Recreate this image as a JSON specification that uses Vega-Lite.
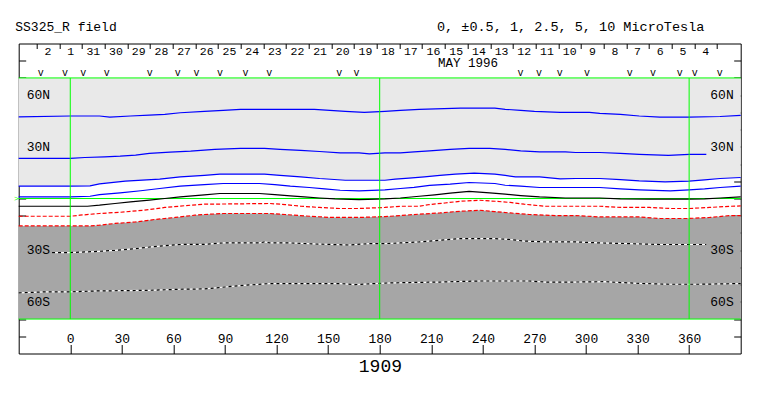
{
 "$schema": "https://vega.github.io/schema/vega-lite/v6.json",
 "width": 722,
 "height": 310,
 "autosize": {"type": "none"},
 "padding": {"left": 18.7, "top": 43.5, "right": 22.3, "bottom": 42.5},
 "background": "white",
 "config": {
  "view": {"stroke": "#000", "strokeWidth": 1},
  "font": "Liberation Mono",
  "text": {"font": "Liberation Mono", "color": "#000"},
  "axis": {"labelFont": "Liberation Mono", "labelColor": "#000", "tickColor": "#000", "grid": false, "domain": false, "title": null, "zindex": 2, "labelOverlap": false, "labelFlush": false}
 },
 "datasets": {
  "contours": [
   {"level": 5, "lon": -30, "lat": 47.4}, {"level": 5, "lon": 0, "lat": 47.9}, {"level": 5, "lon": 17, "lat": 47.9}, {"level": 5, "lon": 23, "lat": 47.3}, {"level": 5, "lon": 35, "lat": 47.9}, {"level": 5, "lon": 46, "lat": 48.4}, {"level": 5, "lon": 55, "lat": 48.8}, {"level": 5, "lon": 64, "lat": 49.8}, {"level": 5, "lon": 78, "lat": 50.6}, {"level": 5, "lon": 89, "lat": 51.2}, {"level": 5, "lon": 99, "lat": 51.8}, {"level": 5, "lon": 142, "lat": 51.8}, {"level": 5, "lon": 151, "lat": 51.2}, {"level": 5, "lon": 160, "lat": 50.6}, {"level": 5, "lon": 171, "lat": 50.0}, {"level": 5, "lon": 183, "lat": 50.6}, {"level": 5, "lon": 192, "lat": 51.2}, {"level": 5, "lon": 203, "lat": 51.8}, {"level": 5, "lon": 227, "lat": 52.5}, {"level": 5, "lon": 247, "lat": 52.5}, {"level": 5, "lon": 253, "lat": 51.8}, {"level": 5, "lon": 262, "lat": 51.2}, {"level": 5, "lon": 270, "lat": 50.6}, {"level": 5, "lon": 285, "lat": 50.0}, {"level": 5, "lon": 302, "lat": 50.0}, {"level": 5, "lon": 308, "lat": 49.4}, {"level": 5, "lon": 320, "lat": 48.8}, {"level": 5, "lon": 331, "lat": 47.9}, {"level": 5, "lon": 343, "lat": 47.3}, {"level": 5, "lon": 360, "lat": 47.3}, {"level": 5, "lon": 378, "lat": 47.6}, {"level": 5, "lon": 390, "lat": 48.3},
   {"level": 2.5, "lon": -30, "lat": 23.3}, {"level": 2.5, "lon": 0, "lat": 23.3}, {"level": 2.5, "lon": 8.5, "lat": 23.8}, {"level": 2.5, "lon": 20, "lat": 24.2}, {"level": 2.5, "lon": 29, "lat": 24.6}, {"level": 2.5, "lon": 38, "lat": 25.2}, {"level": 2.5, "lon": 46, "lat": 26.2}, {"level": 2.5, "lon": 58, "lat": 26.9}, {"level": 2.5, "lon": 70, "lat": 27.5}, {"level": 2.5, "lon": 78, "lat": 28.1}, {"level": 2.5, "lon": 84, "lat": 28.5}, {"level": 2.5, "lon": 99, "lat": 29.1}, {"level": 2.5, "lon": 113, "lat": 29.1}, {"level": 2.5, "lon": 122, "lat": 28.5}, {"level": 2.5, "lon": 134, "lat": 27.9}, {"level": 2.5, "lon": 145, "lat": 27.3}, {"level": 2.5, "lon": 157, "lat": 26.5}, {"level": 2.5, "lon": 168, "lat": 26.5}, {"level": 2.5, "lon": 174, "lat": 25.9}, {"level": 2.5, "lon": 183, "lat": 26.5}, {"level": 2.5, "lon": 192, "lat": 26.5}, {"level": 2.5, "lon": 200, "lat": 27.1}, {"level": 2.5, "lon": 209, "lat": 27.7}, {"level": 2.5, "lon": 221, "lat": 28.5}, {"level": 2.5, "lon": 232, "lat": 29.1}, {"level": 2.5, "lon": 244, "lat": 29.1}, {"level": 2.5, "lon": 253, "lat": 28.5}, {"level": 2.5, "lon": 262, "lat": 27.7}, {"level": 2.5, "lon": 273, "lat": 27.1}, {"level": 2.5, "lon": 288, "lat": 27.1}, {"level": 2.5, "lon": 294, "lat": 26.7}, {"level": 2.5, "lon": 308, "lat": 26.7}, {"level": 2.5, "lon": 320, "lat": 26.2}, {"level": 2.5, "lon": 331, "lat": 25.6}, {"level": 2.5, "lon": 348, "lat": 25.0}, {"level": 2.5, "lon": 360, "lat": 25.6}, {"level": 2.5, "lon": 370, "lat": 25.6},
   {"level": 1, "lon": -30, "lat": 7.2}, {"level": 1, "lon": 0, "lat": 7.2}, {"level": 1, "lon": 11.5, "lat": 7.3}, {"level": 1, "lon": 17, "lat": 8.5}, {"level": 1, "lon": 32, "lat": 10.1}, {"level": 1, "lon": 52, "lat": 11.2}, {"level": 1, "lon": 64, "lat": 12.6}, {"level": 1, "lon": 78, "lat": 13.4}, {"level": 1, "lon": 87, "lat": 14.1}, {"level": 1, "lon": 113, "lat": 14.1}, {"level": 1, "lon": 122, "lat": 13.4}, {"level": 1, "lon": 134, "lat": 12.6}, {"level": 1, "lon": 145, "lat": 11.6}, {"level": 1, "lon": 160, "lat": 10.6}, {"level": 1, "lon": 183, "lat": 10.6}, {"level": 1, "lon": 189, "lat": 11.2}, {"level": 1, "lon": 197, "lat": 11.8}, {"level": 1, "lon": 206, "lat": 12.6}, {"level": 1, "lon": 215, "lat": 13.4}, {"level": 1, "lon": 224, "lat": 14.1}, {"level": 1, "lon": 235, "lat": 14.7}, {"level": 1, "lon": 247, "lat": 14.1}, {"level": 1, "lon": 253, "lat": 13.4}, {"level": 1, "lon": 259, "lat": 12.6}, {"level": 1, "lon": 273, "lat": 12.6}, {"level": 1, "lon": 285, "lat": 11.4}, {"level": 1, "lon": 294, "lat": 11.6}, {"level": 1, "lon": 308, "lat": 11.6}, {"level": 1, "lon": 320, "lat": 11.0}, {"level": 1, "lon": 331, "lat": 10.2}, {"level": 1, "lon": 346, "lat": 9.7}, {"level": 1, "lon": 360, "lat": 10.1}, {"level": 1, "lon": 369, "lat": 10.8}, {"level": 1, "lon": 378, "lat": 11.6}, {"level": 1, "lon": 390, "lat": 12.2},
   {"level": 0.5, "lon": -30, "lat": 0.9}, {"level": 0.5, "lon": 0, "lat": 0.9}, {"level": 0.5, "lon": 11.5, "lat": 1.3}, {"level": 0.5, "lon": 17, "lat": 2.3}, {"level": 0.5, "lon": 29, "lat": 3.3}, {"level": 0.5, "lon": 41, "lat": 4.5}, {"level": 0.5, "lon": 52, "lat": 5.8}, {"level": 0.5, "lon": 64, "lat": 7.2}, {"level": 0.5, "lon": 78, "lat": 8.1}, {"level": 0.5, "lon": 89, "lat": 8.7}, {"level": 0.5, "lon": 110, "lat": 8.7}, {"level": 0.5, "lon": 119, "lat": 8.1}, {"level": 0.5, "lon": 128, "lat": 7.2}, {"level": 0.5, "lon": 139, "lat": 6.4}, {"level": 0.5, "lon": 148, "lat": 5.6}, {"level": 0.5, "lon": 157, "lat": 4.8}, {"level": 0.5, "lon": 168, "lat": 4.4}, {"level": 0.5, "lon": 183, "lat": 5.0}, {"level": 0.5, "lon": 192, "lat": 5.8}, {"level": 0.5, "lon": 200, "lat": 6.5}, {"level": 0.5, "lon": 209, "lat": 7.6}, {"level": 0.5, "lon": 221, "lat": 8.3}, {"level": 0.5, "lon": 232, "lat": 9.3}, {"level": 0.5, "lon": 247, "lat": 8.7}, {"level": 0.5, "lon": 253, "lat": 7.7}, {"level": 0.5, "lon": 262, "lat": 7.2}, {"level": 0.5, "lon": 273, "lat": 6.4}, {"level": 0.5, "lon": 308, "lat": 6.4}, {"level": 0.5, "lon": 320, "lat": 5.6}, {"level": 0.5, "lon": 331, "lat": 5.0}, {"level": 0.5, "lon": 349, "lat": 4.4}, {"level": 0.5, "lon": 360, "lat": 5.0}, {"level": 0.5, "lon": 369, "lat": 5.6}, {"level": 0.5, "lon": 378, "lat": 6.4}, {"level": 0.5, "lon": 390, "lat": 7.2},
   {"level": 0, "lon": -30, "lat": -4.5}, {"level": 0, "lon": 10, "lat": -4.5}, {"level": 0, "lon": 17, "lat": -3.9}, {"level": 0, "lon": 26, "lat": -2.9}, {"level": 0, "lon": 35, "lat": -2.0}, {"level": 0, "lon": 46, "lat": -1.0}, {"level": 0, "lon": 55, "lat": 0.0}, {"level": 0, "lon": 64, "lat": 0.9}, {"level": 0, "lon": 78, "lat": 2.1}, {"level": 0, "lon": 87, "lat": 2.9}, {"level": 0, "lon": 110, "lat": 2.9}, {"level": 0, "lon": 119, "lat": 2.3}, {"level": 0, "lon": 128, "lat": 1.5}, {"level": 0, "lon": 136, "lat": 0.9}, {"level": 0, "lon": 145, "lat": 0.3}, {"level": 0, "lon": 154, "lat": -0.2}, {"level": 0, "lon": 168, "lat": -0.6}, {"level": 0, "lon": 183, "lat": -0.2}, {"level": 0, "lon": 192, "lat": 0.3}, {"level": 0, "lon": 203, "lat": 1.3}, {"level": 0, "lon": 212, "lat": 2.1}, {"level": 0, "lon": 221, "lat": 3.1}, {"level": 0, "lon": 232, "lat": 4.1}, {"level": 0, "lon": 244, "lat": 3.3}, {"level": 0, "lon": 253, "lat": 2.5}, {"level": 0, "lon": 262, "lat": 1.7}, {"level": 0, "lon": 273, "lat": 0.9}, {"level": 0, "lon": 288, "lat": 0.3}, {"level": 0, "lon": 308, "lat": 0.3}, {"level": 0, "lon": 320, "lat": -0.2}, {"level": 0, "lon": 337, "lat": -0.4}, {"level": 0, "lon": 360, "lat": -0.4}, {"level": 0, "lon": 369, "lat": -0.2}, {"level": 0, "lon": 378, "lat": 0.3}, {"level": 0, "lon": 390, "lat": 0.9},
   {"level": -0.5, "lon": -30, "lat": -10.3}, {"level": -0.5, "lon": 0, "lat": -10.3}, {"level": -0.5, "lon": 5.6, "lat": -9.7}, {"level": -0.5, "lon": 17, "lat": -8.7}, {"level": -0.5, "lon": 29, "lat": -8.0}, {"level": -0.5, "lon": 43, "lat": -6.8}, {"level": -0.5, "lon": 55, "lat": -5.2}, {"level": -0.5, "lon": 70, "lat": -3.9}, {"level": -0.5, "lon": 78, "lat": -3.3}, {"level": -0.5, "lon": 99, "lat": -3.1}, {"level": -0.5, "lon": 116, "lat": -2.9}, {"level": -0.5, "lon": 125, "lat": -3.5}, {"level": -0.5, "lon": 134, "lat": -4.5}, {"level": -0.5, "lon": 145, "lat": -5.2}, {"level": -0.5, "lon": 157, "lat": -5.8}, {"level": -0.5, "lon": 168, "lat": -5.8}, {"level": -0.5, "lon": 183, "lat": -5.2}, {"level": -0.5, "lon": 192, "lat": -4.5}, {"level": -0.5, "lon": 203, "lat": -4.5}, {"level": -0.5, "lon": 209, "lat": -3.5}, {"level": -0.5, "lon": 218, "lat": -2.6}, {"level": -0.5, "lon": 227, "lat": -1.6}, {"level": -0.5, "lon": 238, "lat": -1.0}, {"level": -0.5, "lon": 247, "lat": -1.6}, {"level": -0.5, "lon": 256, "lat": -2.3}, {"level": -0.5, "lon": 264, "lat": -3.3}, {"level": -0.5, "lon": 276, "lat": -4.5}, {"level": -0.5, "lon": 308, "lat": -4.5}, {"level": -0.5, "lon": 320, "lat": -5.2}, {"level": -0.5, "lon": 337, "lat": -5.2}, {"level": -0.5, "lon": 349, "lat": -5.8}, {"level": -0.5, "lon": 360, "lat": -5.8}, {"level": -0.5, "lon": 372, "lat": -5.2}, {"level": -0.5, "lon": 384, "lat": -4.5}, {"level": -0.5, "lon": 390, "lat": -4.3},
   {"level": -1, "lon": -30, "lat": -15.9}, {"level": -1, "lon": 11.5, "lat": -15.9}, {"level": -1, "lon": 17, "lat": -15.5}, {"level": -1, "lon": 26, "lat": -14.5}, {"level": -1, "lon": 38, "lat": -13.6}, {"level": -1, "lon": 49, "lat": -12.2}, {"level": -1, "lon": 61, "lat": -11.0}, {"level": -1, "lon": 72.5, "lat": -9.7}, {"level": -1, "lon": 78, "lat": -9.3}, {"level": -1, "lon": 89, "lat": -8.7}, {"level": -1, "lon": 116, "lat": -8.7}, {"level": -1, "lon": 125, "lat": -9.3}, {"level": -1, "lon": 136, "lat": -10.1}, {"level": -1, "lon": 151, "lat": -11.0}, {"level": -1, "lon": 168, "lat": -11.0}, {"level": -1, "lon": 183, "lat": -10.5}, {"level": -1, "lon": 192, "lat": -9.9}, {"level": -1, "lon": 203, "lat": -9.1}, {"level": -1, "lon": 215, "lat": -8.4}, {"level": -1, "lon": 224, "lat": -7.6}, {"level": -1, "lon": 238, "lat": -6.8}, {"level": -1, "lon": 247, "lat": -7.6}, {"level": -1, "lon": 256, "lat": -8.4}, {"level": -1, "lon": 267, "lat": -9.3}, {"level": -1, "lon": 282, "lat": -9.9}, {"level": -1, "lon": 294, "lat": -9.9}, {"level": -1, "lon": 308, "lat": -10.7}, {"level": -1, "lon": 331, "lat": -10.7}, {"level": -1, "lon": 343, "lat": -11.6}, {"level": -1, "lon": 360, "lat": -11.6}, {"level": -1, "lon": 372, "lat": -11.0}, {"level": -1, "lon": 384, "lat": -9.9}, {"level": -1, "lon": 390, "lat": -9.9},
   {"level": -2.5, "lon": -10.6, "lat": -31.4}, {"level": -2.5, "lon": 0, "lat": -31.4}, {"level": -2.5, "lon": 14.4, "lat": -30.8}, {"level": -2.5, "lon": 26, "lat": -30.1}, {"level": -2.5, "lon": 38, "lat": -29.1}, {"level": -2.5, "lon": 49, "lat": -27.9}, {"level": -2.5, "lon": 64, "lat": -26.7}, {"level": -2.5, "lon": 78, "lat": -26.6}, {"level": -2.5, "lon": 89, "lat": -25.8}, {"level": -2.5, "lon": 110, "lat": -25.8}, {"level": -2.5, "lon": 113, "lat": -25.2}, {"level": -2.5, "lon": 116, "lat": -25.8}, {"level": -2.5, "lon": 128, "lat": -25.8}, {"level": -2.5, "lon": 142, "lat": -26.4}, {"level": -2.5, "lon": 162, "lat": -27.0}, {"level": -2.5, "lon": 174, "lat": -26.2}, {"level": -2.5, "lon": 183, "lat": -26.2}, {"level": -2.5, "lon": 192, "lat": -25.8}, {"level": -2.5, "lon": 203, "lat": -25.2}, {"level": -2.5, "lon": 215, "lat": -24.2}, {"level": -2.5, "lon": 227, "lat": -23.3}, {"level": -2.5, "lon": 247, "lat": -23.3}, {"level": -2.5, "lon": 256, "lat": -23.8}, {"level": -2.5, "lon": 264, "lat": -24.7}, {"level": -2.5, "lon": 276, "lat": -25.2}, {"level": -2.5, "lon": 294, "lat": -25.2}, {"level": -2.5, "lon": 308, "lat": -25.8}, {"level": -2.5, "lon": 325, "lat": -26.2}, {"level": -2.5, "lon": 343, "lat": -26.7}, {"level": -2.5, "lon": 370, "lat": -26.7},
   {"level": -5, "lon": -30, "lat": -54.8}, {"level": -5, "lon": -14.7, "lat": -54.2}, {"level": -5, "lon": 0, "lat": -54.2}, {"level": -5, "lon": 14.4, "lat": -53.7}, {"level": -5, "lon": 31.8, "lat": -53.5}, {"level": -5, "lon": 46, "lat": -53.3}, {"level": -5, "lon": 64, "lat": -52.7}, {"level": -5, "lon": 78, "lat": -52.5}, {"level": -5, "lon": 90, "lat": -51.4}, {"level": -5, "lon": 101, "lat": -50.4}, {"level": -5, "lon": 116, "lat": -49.4}, {"level": -5, "lon": 157, "lat": -49.4}, {"level": -5, "lon": 166, "lat": -50.0}, {"level": -5, "lon": 177, "lat": -49.4}, {"level": -5, "lon": 183, "lat": -49.1}, {"level": -5, "lon": 197, "lat": -48.8}, {"level": -5, "lon": 215, "lat": -48.5}, {"level": -5, "lon": 238, "lat": -47.9}, {"level": -5, "lon": 267, "lat": -47.9}, {"level": -5, "lon": 276, "lat": -48.5}, {"level": -5, "lon": 294, "lat": -48.5}, {"level": -5, "lon": 311, "lat": -48.3}, {"level": -5, "lon": 320, "lat": -48.8}, {"level": -5, "lon": 334, "lat": -49.4}, {"level": -5, "lon": 349, "lat": -49.8}, {"level": -5, "lon": 366, "lat": -49.8}, {"level": -5, "lon": 390, "lat": -49.4}
  ],
  "days": [
   {"day": "2", "lon": -13.0}, {"day": "1", "lon": 0.2}, {"day": "31", "lon": 13.4}, {"day": "30", "lon": 26.6}, {"day": "29", "lon": 39.8}, {"day": "28", "lon": 53.0}, {"day": "27", "lon": 66.2}, {"day": "26", "lon": 79.4}, {"day": "25", "lon": 92.6}, {"day": "24", "lon": 105.8}, {"day": "23", "lon": 119.0}, {"day": "22", "lon": 132.2}, {"day": "21", "lon": 145.3}, {"day": "20", "lon": 158.5}, {"day": "19", "lon": 171.7}, {"day": "18", "lon": 184.9}, {"day": "17", "lon": 198.1}, {"day": "16", "lon": 211.3}, {"day": "15", "lon": 224.5}, {"day": "14", "lon": 237.7}, {"day": "13", "lon": 250.9}, {"day": "12", "lon": 264.1}, {"day": "11", "lon": 277.3}, {"day": "10", "lon": 290.5}, {"day": "9", "lon": 303.7}, {"day": "8", "lon": 316.9}, {"day": "7", "lon": 330.0}, {"day": "6", "lon": 343.2}, {"day": "5", "lon": 356.4}, {"day": "4", "lon": 369.6}
  ],
  "vmarks": [
   {"lon": -17.2}, {"lon": -3.1}, {"lon": 7.6}, {"lon": 21.2}, {"lon": 46.3}, {"lon": 62.5}, {"lon": 73.5}, {"lon": 87.1}, {"lon": 101.9}, {"lon": 115.7}, {"lon": 156.4}, {"lon": 166.5}, {"lon": 261.9}, {"lon": 272.7}, {"lon": 284.7}, {"lon": 300.6}, {"lon": 325.4}, {"lon": 339.0}, {"lon": 354.5}, {"lon": 363.3}, {"lon": 377.8}
  ],
  "latlabels": [{"lat": 60, "label": "60N"}, {"lat": 30, "label": "30N"}, {"lat": -30, "label": "30S"}, {"lat": -60, "label": "60S"}],
  "meridians": [{"lon": 0}, {"lon": 180}, {"lon": 360}],
  "parallels": [{"lat": 70}, {"lat": 0}, {"lat": -70}]
 },
 "layer": [
  {
   "data": {"name": "contours"},
   "transform": [{"filter": "datum.level == 1"}],
   "mark": {"type": "area", "color": "#e9e9e9", "interpolate": "linear"},
   "encoding": {
    "x": {"field": "lon", "type": "quantitative", "scale": {"domain": [-30, 390], "nice": false, "zero": false},
     "axis": {"orient": "bottom", "values": [0, 30, 60, 90, 120, 150, 180, 210, 240, 270, 300, 330, 360], "tickSize": -9, "labelPadding": -2, "labelBaseline": "alphabetic", "labelFontSize": 13, "format": "d"}},
    "y": {"field": "lat", "type": "quantitative", "scale": {"domain": [-90, 90], "nice": false, "zero": false},
     "axis": {"orient": "left", "values": [-80, -70, -60, -50, -40, -30, -20, -10, 0, 10, 20, 30, 40, 50, 60, 70, 80], "tickSize": -7, "labels": false}},
    "y2": {"datum": 70}
   }
  },
  {
   "data": {"name": "contours"},
   "transform": [{"filter": "datum.level == -1"}],
   "mark": {"type": "area", "color": "#a6a6a6", "interpolate": "linear"},
   "encoding": {
    "x": {"field": "lon", "type": "quantitative",
     "axis": {"orient": "top", "values": [-19.6, -6.4, 6.8, 20.0, 33.2, 46.4, 59.6, 72.8, 86.0, 99.2, 112.4, 125.6, 138.7, 151.9, 165.1, 178.3, 191.5, 204.7, 217.9, 231.1, 244.3, 257.5, 270.7, 283.9, 297.1, 310.3, 323.4, 336.6, 349.8, 363.0, 376.2], "tickSize": -5, "labels": false}},
    "y": {"field": "lat", "type": "quantitative",
     "axis": {"orient": "right", "values": [-80, -70, -60, -50, -40, -30, -20, -10, 0, 10, 20, 30, 40, 50, 60, 70, 80], "tickSize": -7, "labels": false}},
    "y2": {"datum": -70}
   }
  },
  {
   "data": {"name": "parallels"},
   "mark": {"type": "rule", "color": "#00ff00", "strokeWidth": 1},
   "encoding": {
    "y": {"field": "lat", "type": "quantitative", "axis": null},
    "x": {"datum": -30, "type": "quantitative", "axis": null},
    "x2": {"datum": 390}
   }
  },
  {
   "data": {"name": "contours"},
   "transform": [{"filter": "datum.level > 0"}],
   "mark": {"type": "line", "color": "#0000ff", "strokeWidth": 1.2},
   "encoding": {
    "x": {"field": "lon", "type": "quantitative", "axis": null},
    "y": {"field": "lat", "type": "quantitative", "axis": null},
    "detail": {"field": "level"}
   }
  },
  {
   "data": {"name": "contours"},
   "transform": [{"filter": "datum.level == 0"}],
   "mark": {"type": "line", "color": "#000000", "strokeWidth": 1.2},
   "encoding": {
    "x": {"field": "lon", "type": "quantitative", "axis": null},
    "y": {"field": "lat", "type": "quantitative", "axis": null}
   }
  },
  {
   "data": {"name": "contours"},
   "transform": [{"filter": "datum.level < 0 && datum.level > -2"}],
   "mark": {"type": "line", "color": "#ff0000", "strokeWidth": 1.2, "strokeDash": [4, 2]},
   "encoding": {
    "x": {"field": "lon", "type": "quantitative", "axis": null},
    "y": {"field": "lat", "type": "quantitative", "axis": null},
    "detail": {"field": "level"}
   }
  },
  {
   "data": {"name": "contours"},
   "transform": [{"filter": "datum.level < -2"}],
   "mark": {"type": "line", "color": "#ffffff", "strokeWidth": 1.2},
   "encoding": {
    "x": {"field": "lon", "type": "quantitative", "axis": null},
    "y": {"field": "lat", "type": "quantitative", "axis": null},
    "detail": {"field": "level"}
   }
  },
  {
   "data": {"name": "contours"},
   "transform": [{"filter": "datum.level < -2"}],
   "mark": {"type": "line", "color": "#000000", "strokeWidth": 1.2, "strokeDash": [3, 3]},
   "encoding": {
    "x": {"field": "lon", "type": "quantitative", "axis": null},
    "y": {"field": "lat", "type": "quantitative", "axis": null},
    "detail": {"field": "level"}
   }
  },
  {
   "data": {"name": "meridians"},
   "mark": {"type": "rule", "color": "#00ff00", "strokeWidth": 1},
   "encoding": {
    "x": {"field": "lon", "type": "quantitative", "axis": null},
    "y": {"datum": -70, "type": "quantitative", "axis": null},
    "y2": {"datum": 70}
   }
  },
  {
   "data": {"name": "latlabels"},
   "mark": {"type": "text", "fontSize": 13, "align": "left", "baseline": "middle", "dx": 8},
   "encoding": {
    "x": {"datum": -30, "type": "quantitative", "axis": null},
    "y": {"field": "lat", "type": "quantitative", "axis": null},
    "text": {"field": "label"}
   }
  },
  {
   "data": {"name": "latlabels"},
   "mark": {"type": "text", "fontSize": 13, "align": "right", "baseline": "middle", "dx": -7},
   "encoding": {
    "x": {"datum": 390, "type": "quantitative", "axis": null},
    "y": {"field": "lat", "type": "quantitative", "axis": null},
    "text": {"field": "label"}
   }
  },
  {
   "data": {"name": "days"},
   "mark": {"type": "text", "fontSize": 11.5, "align": "center", "baseline": "alphabetic"},
   "encoding": {
    "x": {"field": "lon", "type": "quantitative", "axis": null},
    "y": {"datum": 83.3, "type": "quantitative", "axis": null},
    "text": {"field": "day"}
   }
  },
  {
   "data": {"name": "vmarks"},
   "mark": {"type": "text", "fontSize": 10, "align": "center", "baseline": "alphabetic", "text": "v"},
   "encoding": {
    "x": {"field": "lon", "type": "quantitative", "axis": null},
    "y": {"datum": 71.4, "type": "quantitative", "axis": null}
   }
  },
  {
   "data": {"values": [{}]},
   "mark": {"type": "text", "fontSize": 12.5, "align": "center", "baseline": "alphabetic", "text": "MAY 1996"},
   "encoding": {
    "x": {"datum": 231.3, "type": "quantitative", "axis": null},
    "y": {"datum": 76.2, "type": "quantitative", "axis": null}
   }
  },
  {
   "data": {"values": [{}]},
   "mark": {"type": "text", "fontSize": 13, "align": "center", "baseline": "alphabetic", "text": "SS325_R field"},
   "encoding": {
    "x": {"datum": -2.5, "type": "quantitative", "axis": null},
    "y": {"datum": 97, "type": "quantitative", "axis": null}
   }
  },
  {
   "data": {"values": [{}]},
   "mark": {"type": "text", "fontSize": 13.5, "align": "center", "baseline": "alphabetic", "text": "0, ±0.5, 1, 2.5, 5, 10 MicroTesla"},
   "encoding": {
    "x": {"datum": 291.1, "type": "quantitative", "axis": null},
    "y": {"datum": 97, "type": "quantitative", "axis": null}
   }
  },
  {
   "data": {"values": [{}]},
   "mark": {"type": "text", "fontSize": 18, "align": "center", "baseline": "alphabetic", "text": "1909"},
   "encoding": {
    "x": {"datum": 180.4, "type": "quantitative", "axis": null},
    "y": {"datum": -100.6, "type": "quantitative", "axis": null}
   }
  },
  {
   "data": {"values": [{}]},
   "mark": {"type": "text", "fontSize": 8, "align": "center", "baseline": "middle", "color": "#00ff00", "text": ">"},
   "encoding": {
    "x": {"datum": -31.3, "type": "quantitative", "axis": null},
    "y": {"datum": 0, "type": "quantitative", "axis": null}
   }
  }
 ],
 "resolve": {"axis": {"x": "independent", "y": "independent"}}
}
